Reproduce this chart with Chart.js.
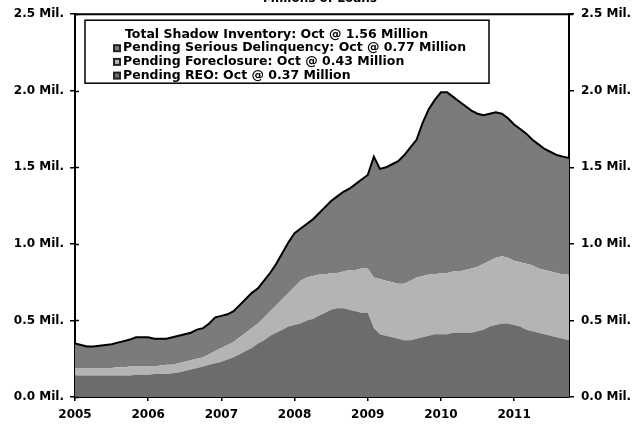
<!DOCTYPE html>
<html>
<head>
<meta charset="utf-8">
<script src="https://cdn.jsdelivr.net/npm/chart.js@4.4.1/dist/chart.umd.min.js"></script>
<style>
html,body{margin:0;padding:0;background:#fff;}
#wrap{width:634px;height:428px;}
</style>
</head>
<body>
<div id="wrap"><canvas id="chart" width="634" height="428"></canvas></div>
<script>
// monthly, Jan 2005 .. Oct 2011, millions of loans
const years = ['2005','2006','2007','2008','2009','2010','2011'];
const reo = [
  0.14,0.14,0.14,0.14,0.14,0.14,0.14,0.14,0.14,0.14,0.145,0.145,
  0.145,0.15,0.15,0.15,0.155,0.16,0.17,0.18,0.19,0.20,0.21,0.22,
  0.23,0.245,0.26,0.28,0.30,0.32,0.35,0.37,0.40,0.42,0.44,0.46,
  0.47,0.48,0.50,0.51,0.53,0.55,0.57,0.58,0.58,0.57,0.56,0.55,
  0.55,0.45,0.41,0.40,0.39,0.38,0.37,0.37,0.38,0.39,0.40,0.41,
  0.41,0.41,0.42,0.42,0.42,0.42,0.43,0.44,0.46,0.47,0.48,0.48,
  0.47,0.46,0.44,0.43,0.42,0.41,0.40,0.39,0.38,0.37
];
const foreclosure = [
  0.05,0.05,0.05,0.05,0.05,0.05,0.05,0.055,0.055,0.06,0.055,0.055,
  0.055,0.05,0.055,0.06,0.055,0.06,0.06,0.06,0.06,0.06,0.07,0.08,
  0.09,0.095,0.10,0.11,0.12,0.13,0.13,0.15,0.16,0.18,0.20,0.22,
  0.25,0.28,0.28,0.28,0.27,0.25,0.24,0.23,0.24,0.26,0.27,0.29,
  0.29,0.33,0.36,0.36,0.36,0.36,0.37,0.39,0.40,0.40,0.40,0.39,
  0.40,0.40,0.40,0.40,0.41,0.42,0.42,0.43,0.43,0.44,0.44,0.43,
  0.42,0.42,0.43,0.43,0.42,0.42,0.42,0.42,0.42,0.43
];
const delinquency = [
  0.16,0.15,0.14,0.14,0.145,0.15,0.155,0.16,0.17,0.175,0.19,0.19,
  0.19,0.18,0.175,0.17,0.18,0.18,0.18,0.18,0.19,0.19,0.20,0.22,
  0.21,0.20,0.20,0.21,0.22,0.23,0.23,0.24,0.25,0.27,0.30,0.33,
  0.35,0.34,0.35,0.37,0.40,0.44,0.47,0.50,0.52,0.53,0.56,0.58,
  0.61,0.79,0.72,0.74,0.77,0.80,0.84,0.87,0.90,1.00,1.08,1.14,
  1.18,1.18,1.14,1.11,1.07,1.03,1.00,0.97,0.96,0.95,0.93,0.91,
  0.89,0.87,0.85,0.82,0.81,0.79,0.78,0.77,0.77,0.76
];
const seriesNames = ['Pending REO','Pending Foreclosure','Pending Serious Delinquency'];
const latestValues = ['0.37','0.43','0.77'];
const totalLatest = '1.56';
const unitTitle = 'Millions of Loans';

const fills = ['#6c6c6c','#b4b4b4','#7b7b7b'];
const tickFont = {family:'"DejaVu Sans"', size:12, weight:'bold'};

function pts(arr){ return arr.map((v,i)=>({x:i,y:v})); }

// box, title and cross ticks drawn on top
const decor = {
  id:'decor',
  afterDraw(chart){
    const ctx = chart.ctx, a = chart.chartArea;
    ctx.save();
    ctx.strokeStyle = '#000';
    ctx.lineWidth = 2;
    ctx.beginPath();
    ctx.moveTo(a.left-1, a.top); ctx.lineTo(a.right+4, a.top);
    ctx.stroke();
    // inside halves of the y ticks
    ctx.lineWidth = 1.5;
    const ys = chart.scales.y;
    ys.ticks.forEach(t=>{
      const py = Math.round(ys.getPixelForValue(t.value))+0.5;
      ctx.beginPath(); ctx.moveTo(a.left, py); ctx.lineTo(a.left+4, py); ctx.stroke();
    });
    // partly cut off unit title
    ctx.fillStyle = '#000';
    ctx.font = 'bold 12px "DejaVu Sans"';
    ctx.textAlign = 'center';
    ctx.textBaseline = 'alphabetic';
    ctx.fillText(unitTitle, 320, 2);
    // legend box
    const bx = a.left+10, by = a.top+6, bw = 404, bh = 63;
    ctx.fillStyle = '#fff';
    ctx.fillRect(bx, by, bw, bh);
    ctx.lineWidth = 1.5;
    ctx.strokeRect(bx, by, bw, bh);
    ctx.fillStyle = '#000';
    ctx.font = 'bold 12.5px "DejaVu Sans"';
    ctx.textAlign = 'left';
    ctx.textBaseline = 'middle';
    ctx.fillText('Total Shadow Inventory: Oct @ ' + totalLatest + ' Million', bx+40, by+15);
    for (let k = 0; k < 3; k++) {
      const d = 2-k;
      const ly = by+28+k*13.7;
      ctx.fillStyle = '#222';
      ctx.fillRect(bx+28, ly-4, 8, 8);
      ctx.fillStyle = fills[d];
      ctx.fillRect(bx+30, ly-2, 4, 4);
      ctx.fillStyle = '#000';
      ctx.fillText(seriesNames[d] + ': Oct @ ' + latestValues[d] + ' Million', bx+38, ly);
    }
    ctx.restore();
  }
};

new Chart(document.getElementById('chart'), {
  type:'line',
  data:{
    datasets:[
      {label:seriesNames[0], data:pts(reo), backgroundColor:fills[0], borderWidth:0, fill:'origin', pointRadius:0},
      {label:seriesNames[1], data:pts(foreclosure), backgroundColor:fills[1], borderWidth:0, fill:'-1', pointRadius:0},
      {label:seriesNames[2], data:pts(delinquency), backgroundColor:fills[2], borderColor:'#000', borderWidth:2, fill:'-1', pointRadius:0}
    ]
  },
  options:{
    responsive:false,
    animation:false,
    devicePixelRatio:1,
    layout:{padding:{top:11,left:0,right:0,bottom:0}},
    plugins:{legend:{display:false}, tooltip:{enabled:false}},
    scales:{
      x:{
        type:'linear', min:0, max:81,
        afterFit(s){ s.height = 31; },
        ticks:{stepSize:12, includeBounds:false, autoSkip:false, maxRotation:0, padding:7, color:'#000', font:tickFont,
          callback:(v)=> years[v/12] || ''},
        grid:{drawOnChartArea:false, tickLength:4, color:'#000', lineWidth:1.5},
        border:{color:'#000', width:2}
      },
      y:{
        stacked:true, position:'left', min:0, max:2.5,
        afterFit(s){ s.width = 75; },
        ticks:{stepSize:0.5, padding:6, color:'#000', font:tickFont, callback:(v)=> v.toFixed(1)+' Mil.'},
        grid:{drawOnChartArea:false, tickLength:5, color:'#000', lineWidth:1.5},
        border:{color:'#000', width:2}
      },
      y2:{
        position:'right', min:0, max:2.5,
        afterFit(s){ s.width = 65; },
        ticks:{stepSize:0.5, padding:7, color:'#000', font:tickFont, callback:(v)=> v.toFixed(1)+' Mil.'},
        grid:{drawOnChartArea:false, tickLength:5, color:'#000', lineWidth:1.5},
        border:{color:'#000', width:2}
      }
    }
  },
  plugins:[decor]
});
</script>
</body>
</html>
